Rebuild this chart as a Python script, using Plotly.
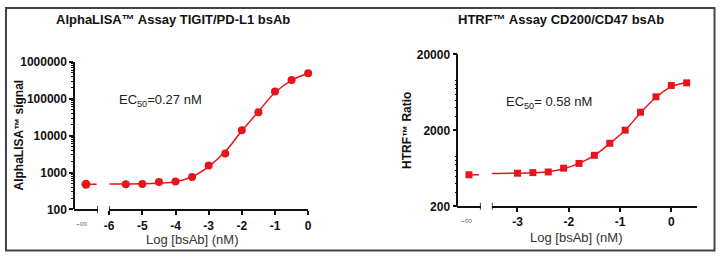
import plotly.graph_objects as go

W, H = 720, 259
RED = "#e8141c"
FONT = "Liberation Sans"

# ---------------- data: left (AlphaLISA) ----------------
left_x = [-5.5, -5.0, -4.5, -4.0, -3.5, -3.0, -2.5, -2.0, -1.5, -1.0, -0.5, 0.0]
left_y = [485, 490, 550, 575, 760, 1540, 3300, 14000, 43000, 157000, 320000, 490000]
left_neginf_y = 480
left_fit_x = [-6.0, -5.5, -5.0, -4.5, -4.0, -3.5, -3.0, -2.5, -2.0, -1.5, -1.0, -0.5, 0.0]
left_fit_y = [488, 490, 495, 515, 560, 770, 1450, 3700, 13500, 45000, 148000, 315000, 490000]
left_yticks = [100, 1000, 10000, 100000, 1000000]
left_xticks = [-6, -5, -4, -3, -2, -1, 0]

# ---------------- data: right (HTRF) ----------------
right_x = [-3.0, -2.7, -2.4, -2.1, -1.8, -1.5, -1.2, -0.9, -0.6, -0.3, 0.0, 0.3]
right_y = [545, 555, 566, 635, 733, 938, 1350, 2010, 3460, 5520, 7780, 8420]
right_neginf_y = 520
right_fit_x = [-3.5, -3.0, -2.7, -2.4, -2.1, -1.8, -1.5, -1.2, -0.9, -0.6, -0.3, 0.0, 0.3]
right_fit_y = [540, 545, 552, 570, 625, 735, 935, 1340, 2000, 3400, 5400, 7500, 8500]
right_yticks = [200, 2000, 20000]
right_xticks = [-3, -2, -1, 0]


def px(x):
    return x / W


def py(y):
    return 1 - y / H


def minor_vals(lo_exp, hi_exp):
    vals = []
    for e in range(lo_exp, hi_exp):
        for m in range(2, 10):
            vals.append(m * 10 ** e)
    return vals


fig = go.Figure()

# left -inf segment
fig.add_trace(go.Scatter(x=[0, 0.9], y=[left_neginf_y, left_neginf_y], mode="lines",
                         line=dict(color=RED, width=1.5), xaxis="x", yaxis="y", showlegend=False))
fig.add_trace(go.Scatter(x=[0], y=[left_neginf_y], mode="markers",
                         marker=dict(color=RED, size=9, symbol="circle"),
                         xaxis="x", yaxis="y", showlegend=False, cliponaxis=False))
# left main curve
fig.add_trace(go.Scatter(x=left_fit_x, y=left_fit_y, mode="lines",
                         line=dict(color=RED, width=1.5, shape="spline", smoothing=1.0),
                         xaxis="x2", yaxis="y", showlegend=False, cliponaxis=False))
fig.add_trace(go.Scatter(x=left_x, y=left_y, mode="markers",
                         marker=dict(color=RED, size=8, symbol="circle"),
                         xaxis="x2", yaxis="y", showlegend=False, cliponaxis=False))

# right -inf segment
fig.add_trace(go.Scatter(x=[0, 0.85], y=[right_neginf_y, right_neginf_y], mode="lines",
                         line=dict(color=RED, width=1.5), xaxis="x3", yaxis="y2", showlegend=False))
fig.add_trace(go.Scatter(x=[0], y=[right_neginf_y], mode="markers",
                         marker=dict(color=RED, size=7, symbol="square"),
                         xaxis="x3", yaxis="y2", showlegend=False, cliponaxis=False))
# right main curve
fig.add_trace(go.Scatter(x=right_fit_x, y=right_fit_y, mode="lines",
                         line=dict(color=RED, width=1.5, shape="spline", smoothing=1.0),
                         xaxis="x4", yaxis="y2", showlegend=False, cliponaxis=False))
fig.add_trace(go.Scatter(x=right_x, y=right_y, mode="markers",
                         marker=dict(color=RED, size=7, symbol="square"),
                         xaxis="x4", yaxis="y2", showlegend=False, cliponaxis=False))

tickfont = dict(family=FONT, size=12, color="#111111")
axline = dict(showline=True, linecolor="#111111", linewidth=1.5, showgrid=False,
              zeroline=False, ticks="outside", ticklen=4, tickwidth=1.5, tickcolor="#111111")
stub = dict(showline=True, linecolor="#111111", linewidth=1.5, showgrid=False,
            zeroline=False, showticklabels=False, ticks="")

L_YB, L_YT = 214, 58
R_YB, R_YT = 210.7, 50

fig.update_layout(
    width=W, height=H, margin=dict(l=0, r=0, t=0, b=0),
    paper_bgcolor="white", plot_bgcolor="white",
    font=dict(family=FONT),
    xaxis=dict(domain=[px(70), px(94)], range=[-1, 1], anchor="y", **stub),
    xaxis2=dict(domain=[px(105.5), px(307)], range=[-6, 0], anchor="y",
                tickvals=left_xticks, ticktext=[f"<b>{v}</b>" for v in left_xticks],
                tickfont=tickfont, **axline),
    yaxis=dict(domain=[py(L_YB), py(L_YT)], type="log", range=[2, 6], anchor="free",
               position=px(70), tickvals=left_yticks,
               ticktext=[f"<b>{v}</b>" for v in left_yticks], tickfont=tickfont,
               minor=dict(ticks="outside", ticklen=2, tickwidth=1, tickcolor="#111111",
                          tickvals=minor_vals(2, 6), showgrid=False),
               **axline),
    xaxis3=dict(domain=[px(458), px(481.7)], range=[-1, 1], anchor="y2", **stub),
    xaxis4=dict(domain=[px(493), px(700.7)], range=[-3.5, 0.5], anchor="y2",
                tickvals=right_xticks, ticktext=[f"<b>{v}</b>" for v in right_xticks],
                tickfont=tickfont, **axline),
    yaxis2=dict(domain=[py(R_YB), py(R_YT)], type="log", range=[2.30103, 4.30103], anchor="free",
                position=px(458), tickvals=right_yticks,
                ticktext=[f"<b>{v}</b>" for v in right_yticks], tickfont=tickfont,
                minor=dict(ticks="outside", ticklen=2, tickwidth=1, tickcolor="#111111",
                           tickvals=[v for v in minor_vals(2, 5) if 200 < v < 20000],
                           showgrid=False),
                **axline),
)

# axis break bars
shapes = []
for xref, yref, xv in [("x", "y domain", 1), ("x2", "y domain", -6),
                       ("x3", "y2 domain", 1), ("x4", "y2 domain", -3.5)]:
    shapes.append(dict(type="line", xref=xref, yref=yref, x0=xv, x1=xv,
                       ysizemode="pixel", yanchor=0, y0=-3.5, y1=3.5,
                       line=dict(color="#111111", width=1.5)))
# outer frame
shapes.append(dict(type="rect", xref="paper", yref="paper",
                   x0=px(1), x1=px(718.5), y0=py(257.5), y1=py(1),
                   line=dict(color="#444444", width=2)))
fig.update_layout(shapes=shapes)

ann = []


def add_text(x, y, text, size, color="#111111", angle=0, xanchor="center"):
    ann.append(dict(x=px(x), y=py(y), xref="paper", yref="paper", text=text, showarrow=False,
                    font=dict(family=FONT, size=size, color=color), textangle=angle,
                    xanchor=xanchor, yanchor="middle"))


add_text(170, 13, "<b>AlphaLISA™ Assay TIGIT/PD-L1 bsAb</b>", 13)
add_text(563, 13, "<b>HTRF™ Assay CD200/CD47 bsAb</b>", 13)
add_text(113, 99, "EC<sub>50</sub>=0.27 nM", 13, color="#222222", xanchor="left")
add_text(505, 101, "EC<sub>50</sub>= 0.58 nM", 13, color="#222222", xanchor="left")
add_text(190, 246, "Log [bsAb] (nM)", 13, color="#333333")
add_text(579, 244, "Log [bsAb] (nM)", 13, color="#333333")
add_text(14, 135, "<b>AlphaLISA™ signal</b>", 12, angle=-90)
add_text(407, 130, "<b>HTRF™ Ratio</b>", 12, angle=-90)
add_text(78, 228, "-∞", 11, color="#888888")
add_text(468, 225, "-∞", 11, color="#888888")
fig.update_layout(annotations=ann)

fig.write_html("out.html")
